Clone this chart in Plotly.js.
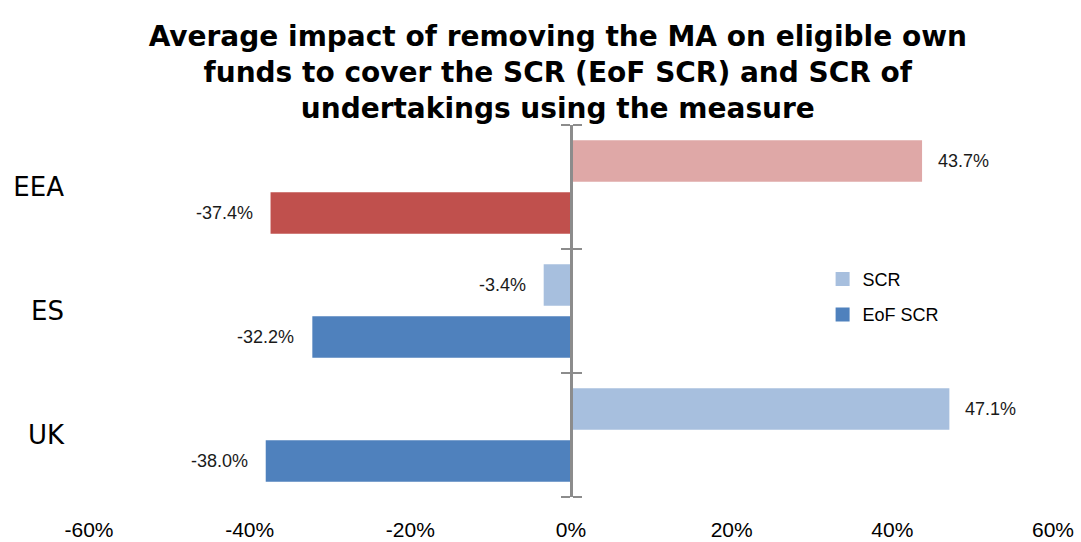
<!DOCTYPE html>
<html>
<head>
<meta charset="utf-8">
<script src="https://cdn.plot.ly/plotly-3.0.1.min.js"></script>
<style>html,body{margin:0;padding:0;background:#fff;}#chart{width:1081px;height:542px;}</style>
</head>
<body>
<div id="chart"></div>
<script>
// ---- data ----
const categories = ['EEA', 'ES', 'UK'];
const scrValues = [43.7, -3.4, 47.1];
const eofValues = [-37.4, -32.2, -38.0];
const seriesNames = ['SCR', 'EoF SCR'];
const xTickVals = [-60, -40, -20, 0, 20, 40, 60];
const xTickText = ['-60%', '-40%', '-20%', '0%', '20%', '40%', '60%'];
const boundaryVals = [-0.5, 0.5, 1.5, 2.5];

// ---- styles ----
const scrColors = ['#DFA8A7', '#A7BFDE', '#A7BFDE'];
const eofColors = ['#C0504D', '#4F81BD', '#4F81BD'];
const legendColors = ['#A7BFDE', '#4F81BD'];
const axisGray = '#8C8C8C';

const traces = [
  {type: 'bar', orientation: 'h', name: seriesNames[0], y: categories, x: scrValues,
   marker: {color: scrColors}, showlegend: false, hoverinfo: 'x+y'},
  {type: 'bar', orientation: 'h', name: seriesNames[1], y: categories, x: eofValues,
   marker: {color: eofColors}, showlegend: false, hoverinfo: 'x+y'},
  // legend entries
  {type: 'scatter', mode: 'markers', name: seriesNames[0], x: [null], y: [null],
   marker: {symbol: 'square', size: 14, color: legendColors[0]}, legendgroup: 'a', hoverinfo: 'skip'},
  {type: 'scatter', mode: 'markers', name: seriesNames[1], x: [null], y: [null],
   marker: {symbol: 'square', size: 14, color: legendColors[1]}, legendgroup: 'b', hoverinfo: 'skip'},
  // helper traces so the tick-mark axes at x=0 are drawn
  {type: 'scatter', mode: 'markers', x: [null], y: [null], yaxis: 'y2', showlegend: false, hoverinfo: 'skip'},
  {type: 'scatter', mode: 'markers', x: [null], y: [null], yaxis: 'y3', showlegend: false, hoverinfo: 'skip'}
];

const labelFont = {family: 'Liberation Sans, Arial, sans-serif', size: 18, color: '#1a1a1a'};
const annotations = [];
[[scrValues, 26], [eofValues, -26]].forEach(([vals, ys]) => {
  vals.forEach((v, i) => {
    annotations.push({
      x: v, y: categories[i], xref: 'x', yref: 'y',
      text: v.toFixed(1) + '%', showarrow: false,
      xanchor: v >= 0 ? 'left' : 'right', xshift: v >= 0 ? 14 : -16, yshift: ys,
      font: labelFont
    });
  });
});

const tickAxis = (ticksDir) => ({
  overlaying: 'y', anchor: 'free', position: 0.5, side: 'left',
  range: [2.5, -0.5], type: 'linear', tickmode: 'array', tickvals: boundaryVals,
  ticks: ticksDir, ticklen: 9, tickwidth: 2.5, tickcolor: axisGray,
  showticklabels: false, showgrid: false, zeroline: false,
  showline: true, linecolor: axisGray, linewidth: 2.5, fixedrange: true
});

const layout = {
  width: 1081, height: 542,
  margin: {l: 89, r: 28, t: 125, b: 45},
  paper_bgcolor: '#fff', plot_bgcolor: '#fff',
  title: {
    text: 'Average impact of removing the MA on eligible own<br>funds to cover the SCR (EoF SCR) and SCR of<br>undertakings using the measure',
    font: {family: 'DejaVu Sans, Verdana, sans-serif', size: 28, weight: 'bold', color: '#000'},
    xref: 'container', x: 0.516, xanchor: 'center',
    yref: 'container', y: 0.916, yanchor: 'top'
  },
  barmode: 'group', bargap: 0.161, bargroupgap: 0.2,
  xaxis: {
    range: [-60, 60], tickmode: 'array', tickvals: xTickVals, ticktext: xTickText,
    showgrid: false, zeroline: false, showline: false, ticks: '',
    ticklabelstandoff: 18,
    tickfont: {family: 'Liberation Sans, Arial, sans-serif', size: 21, color: '#000'}
  },
  yaxis: {
    type: 'category', categoryorder: 'array', categoryarray: categories,
    range: [2.5, -0.5], showgrid: false, zeroline: false, showline: false, ticks: '',
    ticklabelstandoff: 24,
    tickfont: {family: 'DejaVu Sans, Verdana, sans-serif', size: 26, color: '#000'}
  },
  yaxis2: tickAxis('outside'),
  yaxis3: Object.assign(tickAxis('outside'), {side: 'right'}),
  showlegend: true,
  legend: {
    x: 0.761, y: 0.635, xanchor: 'left', yanchor: 'top',
    font: {family: 'Liberation Sans, Arial, sans-serif', size: 18, color: '#000'},
    tracegroupgap: 9, bgcolor: 'rgba(0,0,0,0)'
  },
  annotations: annotations
};

Plotly.newPlot('chart', traces, layout, {displayModeBar: false, staticPlot: true});
</script>
</body>
</html>
